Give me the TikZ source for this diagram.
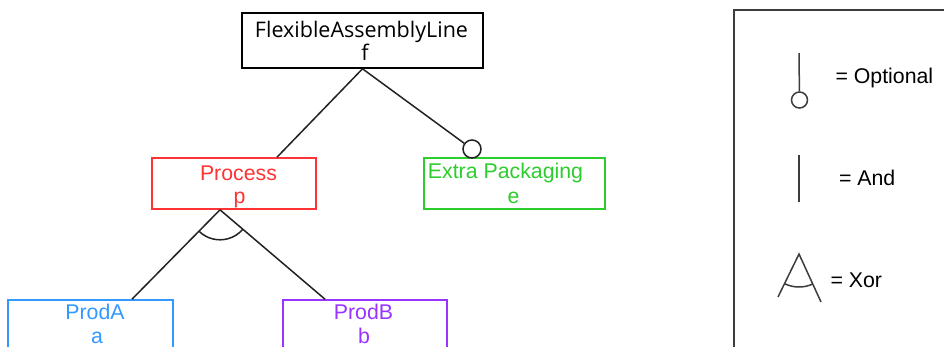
\documentclass[tikz,border=0pt]{standalone}
\usepackage{fontspec}
\setmainfont{Liberation Sans}
\newfontfamily\uifont{Open Sans}
\usetikzlibrary{calc}
\definecolor{cred}{RGB}{255,51,51}
\definecolor{cgreen}{RGB}{45,205,45}
\definecolor{cblue}{RGB}{51,153,255}
\definecolor{cpurple}{RGB}{153,51,255}
\definecolor{cline}{RGB}{34,34,34}
\definecolor{cleg}{RGB}{60,60,60}
\begin{document}
\begin{tikzpicture}[x=1pt,y=1pt,
  box/.style={draw, line width=1.6pt, rectangle, inner sep=0pt},
  lbl/.style={anchor=base, font=\fontsize{21.3}{23}\selectfont},
  rootlbl/.style={anchor=base, font=\uifont\fontsize{21.5}{23}\selectfont},
  conn/.style={draw=cline, line width=1.5pt},
  legline/.style={draw=cleg, line width=1.5pt}]
\clip (0,0) rectangle (944,-346);
\fill[white] (0,0) rectangle (944,-346);

% feature boxes
\node[box, draw=black, minimum width=241pt, minimum height=55pt] (f) at (362.5,-40.5) {};
\node[rootlbl] (ft) at (361.5,-37) {FlexibleAssemblyLine};
\node[rootlbl] (ff) at (365,-60) {f};

\node[box, draw=cred, minimum width=164pt, minimum height=51pt] (p) at (234,-183.5) {};
\node[lbl, text=cred] (pt) at (238.5,-180) {Process};
\node[lbl, text=cred] (pp) at (239.5,-203) {p};

\node[box, draw=cgreen, minimum width=181pt, minimum height=51pt] (e) at (514.5,-183.5) {};
\node[lbl, text=cgreen] (et) at (505.5,-178) {Extra Packaging};
\node[lbl, text=cgreen] (ee) at (513.5,-203) {e};

\node[box, draw=cblue, minimum width=165pt, minimum height=52pt] (a) at (90.5,-326) {};
\node[lbl, text=cblue] (at) at (95,-319) {ProdA};
\node[lbl, text=cblue] (aa) at (97,-343) {a};

\node[box, draw=cpurple, minimum width=164pt, minimum height=52pt] (b) at (365,-326) {};
\node[lbl, text=cpurple] (bt) at (363.5,-319) {ProdB};
\node[lbl, text=cpurple] (bb) at (364,-343) {b};

% connectors
\draw[conn] (f.south) -- ([xshift=43pt]p.north);
\node[draw=cline, circle, line width=1.5pt, minimum size=18pt, inner sep=0pt] (oc) at (472,-149) {};
\draw[conn] (f.south) -- (oc);
\coordinate (pv) at ([xshift=-14pt]p.south);
\draw[conn] (pv) -- ([xshift=41.5pt]a.north);
\draw[conn] (pv) -- ([xshift=-40pt]b.north);
\draw[conn] ([shift={(226:30)}]pv) arc[start angle=226, end angle=319, radius=30];

% legend
\node[draw=cleg, line width=1.6pt, rectangle, anchor=north west, minimum width=230pt, minimum height=350pt] (lg) at (733,-9) {};
\coordinate (o1) at (799,-53);
\node[draw=cleg, circle, line width=1.5pt, minimum size=16pt, inner sep=0pt] (o2) at (799.5,-100) {};
\draw[legline] (o1) -- (o2);
\node[lbl, anchor=base west] (lo) at (832,-83) {= Optional};

\coordinate (n1) at (799,-155);
\coordinate (n2) at (799,-202);
\draw[legline] (n1) -- (n2);
\node[lbl, anchor=base west] (ln) at (835.5,-185) {= And};

\coordinate (x0) at (799,-254);
\coordinate (x1) at (778,-297);
\coordinate (x2) at (821,-302);
\draw[legline] (x1) -- (x0) -- (x2);
\draw[legline] ([shift={(244:33)}]x0) arc[start angle=244, end angle=294.6, radius=33];
\node[lbl, anchor=base west] (lx) at (827,-287) {= Xor};
\end{tikzpicture}
\end{document}
